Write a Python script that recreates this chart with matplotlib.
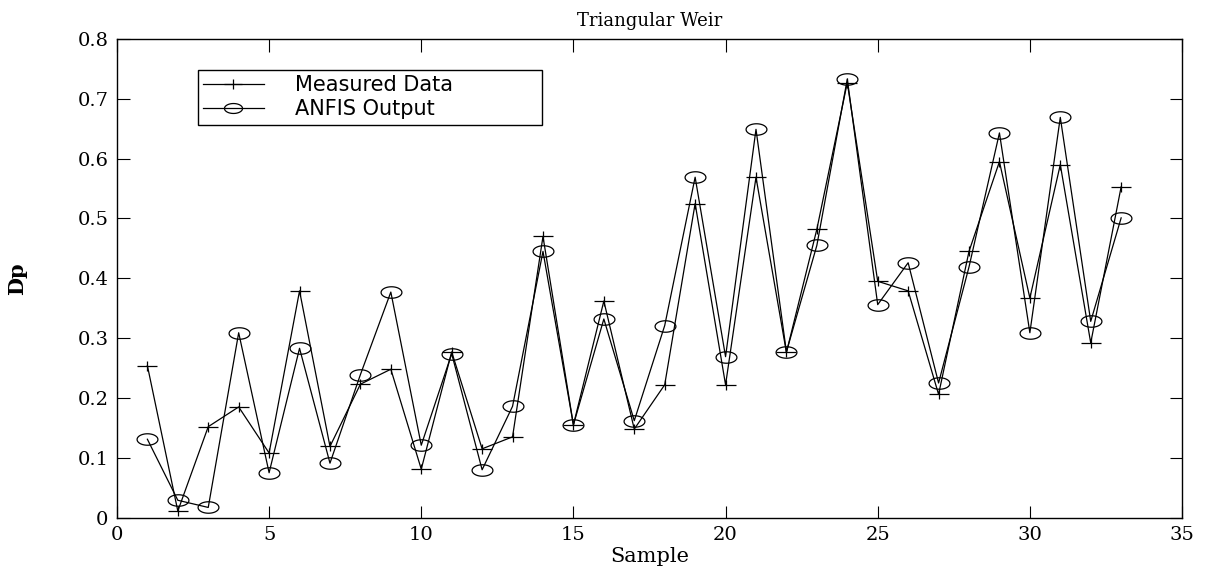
import matplotlib
matplotlib.use('Agg')
import matplotlib.pyplot as plt
import numpy as np
from matplotlib.path import Path

samples = list(range(1, 34))
measured = [0.254, 0.011, 0.152, 0.185, 0.108, 0.379, 0.119, 0.223, 0.248, 0.081,
            0.277, 0.115, 0.135, 0.470, 0.155, 0.362, 0.148, 0.222, 0.525, 0.222,
            0.569, 0.276, 0.482, 0.727, 0.395, 0.379, 0.206, 0.445, 0.595, 0.367,
            0.590, 0.292, 0.553]
anfis = [0.131, 0.029, 0.017, 0.309, 0.075, 0.283, 0.091, 0.239, 0.377, 0.121,
         0.274, 0.080, 0.186, 0.445, 0.155, 0.332, 0.162, 0.321, 0.569, 0.269,
         0.649, 0.277, 0.455, 0.733, 0.356, 0.426, 0.225, 0.419, 0.643, 0.309,
         0.669, 0.328, 0.501]

serif = 'DejaVu Serif'

# stretched markers (the original picture is squashed horizontally)
t = np.linspace(0, 2 * np.pi, 60)
ellipse = Path(np.column_stack([np.cos(t), 0.55 * np.sin(t)]), closed=True)
plus = Path([[-1, 0], [1, 0], [0, -0.5], [0, 0.5]],
            [Path.MOVETO, Path.LINETO, Path.MOVETO, Path.LINETO])

fig = plt.figure(figsize=(12.07, 5.71), dpi=100)
ax = fig.add_axes([0.0969, 0.0935, 0.8824, 0.8382])

ax.plot(samples, measured, color='black', linewidth=0.9, marker=plus,
        markersize=15, markeredgewidth=0.9, label='Measured Data')
ax.plot(samples, anfis, color='black', linewidth=0.9, marker=ellipse,
        markersize=15, markerfacecolor='none', markeredgewidth=0.9, label='ANFIS Output')

ax.set_xlim(0, 35)
ax.set_ylim(0, 0.8)
ax.set_xticks(range(0, 36, 5))
ax.set_yticks(np.arange(0, 0.81, 0.1))
ax.set_yticklabels(['0', '0.1', '0.2', '0.3', '0.4', '0.5', '0.6', '0.7', '0.8'])
ax.tick_params(direction='in', top=True, right=True, length=9, width=0.8,
               labelsize=14, pad=6)
for lab in ax.get_xticklabels() + ax.get_yticklabels():
    lab.set_family(serif)
for s in ax.spines.values():
    s.set_linewidth(1.0)

ax.set_title('Triangular Weir', family=serif, fontsize=13, pad=9)
ax.set_xlabel('Sample', family=serif, fontsize=15, labelpad=2)
ax.set_ylabel('Dp', family=serif, fontsize=15, fontweight='bold')
ax.yaxis.set_label_coords(-0.084, 0.5)

leg = ax.legend(loc='upper left',
                bbox_to_anchor=(198 / 1207, 1 - 122 / 571, 344 / 1207, 52 / 571),
                bbox_transform=fig.transFigure, mode='expand', borderaxespad=0,
                fancybox=False, edgecolor='black', framealpha=1,
                borderpad=0.25, handlelength=2.9, handletextpad=1.5,
                labelspacing=0.2, prop={'family': 'DejaVu Sans', 'size': 15})
leg.get_frame().set_linewidth(1.0)
for h in leg.legend_handles:
    h.set_markersize(13)

fig.savefig('out.png', dpi=100)
